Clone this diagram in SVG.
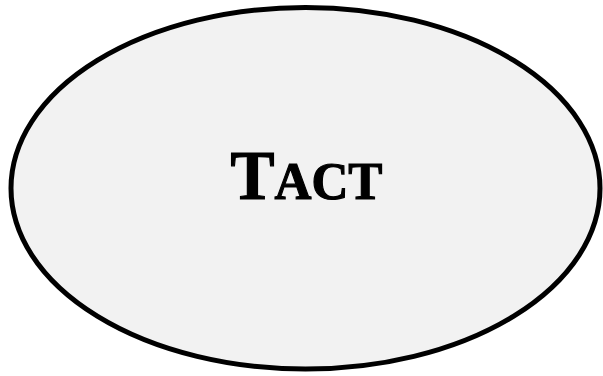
<svg xmlns="http://www.w3.org/2000/svg" width="603" height="376" viewBox="0 0 603 376">
<style>
.node{fill:#f2f2f2;stroke:#000;stroke-width:5}
.lbl{font-family:"Liberation Serif","DejaVu Serif",serif;font-weight:bold;fill:#000;stroke:#000;stroke-width:1.2}
</style>
<rect width="603" height="376" fill="#fff"/>
<g id="connectors"></g>
<g id="tact">
<ellipse class="node" cx="305.5" cy="188.3" rx="294.5" ry="180.8"/>
<text class="lbl" x="230.5" y="198.5" textLength="152" lengthAdjust="spacingAndGlyphs"><tspan font-size="69">T</tspan><tspan font-size="53.5">ACT</tspan></text>
</g>
</svg>
